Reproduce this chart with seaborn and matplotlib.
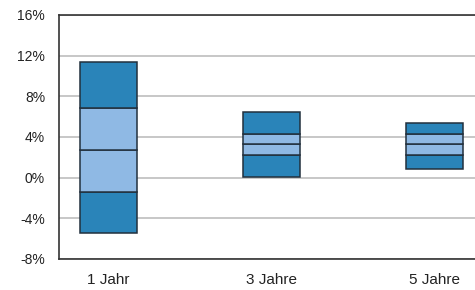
import numpy as np
import pandas as pd
import seaborn as sns
import matplotlib
matplotlib.use("Agg")
import matplotlib.pyplot as plt
from matplotlib.ticker import FuncFormatter

# Renditespannen (Perzentile) je Anlagehorizont, in %
horizonte = ["1 Jahr", "3 Jahre", "5 Jahre"]
p05 = [-5.4, 0.1, 0.9]
p25 = [-1.45, 2.2, 2.2]
p50 = [2.7, 3.3, 3.3]
p75 = [6.9, 4.3, 4.3]
p95 = [11.4, 6.45, 5.4]

dark = "#2a84b9"
light = "#8fb9e4"
edge = "#22303d"

sns.set_theme(style="white")
plt.rcParams["font.family"] = ["Liberation Sans", "DejaVu Sans"]

fig = plt.figure(figsize=(4.75, 2.9), dpi=100)
ax = fig.add_axes([59 / 475, 31 / 290, 1 - 59 / 475, 244 / 290])

segments = [
    (p05, p25, dark),
    (p25, p50, light),
    (p50, p75, light),
    (p75, p95, dark),
]
for lo, hi, col in segments:
    df = pd.DataFrame({
        "horizont": horizonte,
        "hoehe": np.array(hi) - np.array(lo),
    })
    sns.barplot(data=df, x="horizont", y="hoehe", bottom=lo, color=col,
                saturation=1, width=0.35, edgecolor=edge, linewidth=1.1,
                ax=ax, zorder=3)

ax.set_ylim(-8, 16)
ax.set_yticks(np.arange(-8, 17, 4))
ax.yaxis.set_major_formatter(FuncFormatter(lambda v, p: f"{int(v)}%"))
ax.set_xlim(-0.305, 2.25)
ax.yaxis.grid(True, color="#bdbdbd", linewidth=1.2, zorder=0)
ax.set_axisbelow(True)
ax.set_xlabel("")
ax.set_ylabel("")
ax.tick_params(axis="y", labelsize=10, colors="#222222", length=0, pad=10)
ax.tick_params(axis="x", labelsize=11, colors="#222222", length=0, pad=10)

for s in ["left", "top", "bottom"]:
    ax.spines[s].set_color("#333333")
    ax.spines[s].set_linewidth(1.2)
ax.spines["right"].set_visible(False)

fig.savefig("out.png", dpi=100)
